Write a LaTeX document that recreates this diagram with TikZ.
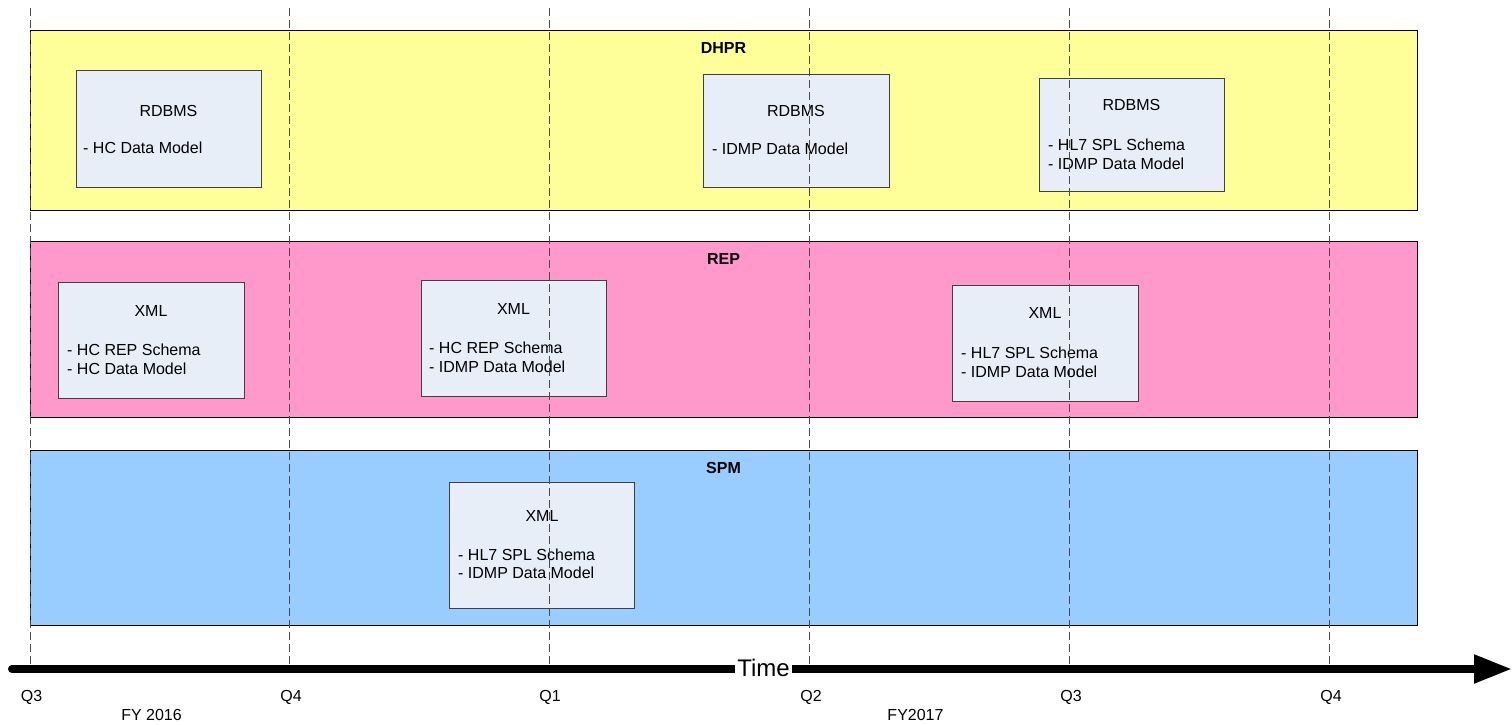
\documentclass[tikz,border=0pt]{standalone}
\usepackage{fontspec}
\setmainfont{Liberation Sans}
\usetikzlibrary{arrows.meta}
\definecolor{dhprfill}{HTML}{FFFF99}
\definecolor{repfill}{HTML}{FF99CC}
\definecolor{spmfill}{HTML}{99CCFF}
\definecolor{storefill}{HTML}{E8EEF8}
\definecolor{storeline}{HTML}{404040}
\definecolor{gridcol}{HTML}{4A4A4A}
\begin{document}
\begin{tikzpicture}[x=1pt,y=-1pt,
  band/.style={draw=black, line width=1pt, outer sep=0pt, inner sep=0pt, anchor=north west},
  store/.style={draw=storeline, fill=storefill, line width=1pt, outer sep=0pt, inner sep=0pt, anchor=north west},
  txt/.style={inner sep=0pt, font=\fontsize{16}{19}\selectfont},
  title/.style={txt, anchor=base},
  item/.style={txt, anchor=base west},
  bandlbl/.style={txt, anchor=base, font=\fontsize{16}{19}\selectfont\bfseries},
  quarter/.style={txt, anchor=base},
  gridline/.style={draw=gridcol, line width=1pt, dash pattern=on 8pt off 4pt}
]
\useasboundingbox (0,0) rectangle (1512,725);

% swim lanes
\node[band, fill=dhprfill, minimum width=1387pt, minimum height=179pt] (dhpr) at (30,31) {};
\node[band, fill=repfill,  minimum width=1387pt, minimum height=176pt] (rep)  at (30,241) {};
\node[band, fill=spmfill,  minimum width=1387pt, minimum height=175pt] (spm)  at (30,450) {};
\node[bandlbl] (dhprlbl) at (723.5,54) {DHPR};
\node[bandlbl] (replbl)  at (723.5,264.7) {REP};
\node[bandlbl] (spmlbl)  at (723.5,473.7) {SPM};

% DHPR stores
\node[store, minimum width=185pt, minimum height=116pt] (d1) at (76,71) {};
\node[title] (d1t) at (168.5,116.7) {RDBMS};
\node[item] (d1a) at (83,153.7) {- HC Data Model};

\node[store, minimum width=186pt, minimum height=113pt] (d2) at (703,74) {};
\node[title] (d2t) at (796,116.7) {RDBMS};
\node[item] (d2a) at (712,154.7) {- IDMP Data Model};

\node[store, minimum width=185pt, minimum height=113pt] (d3) at (1039,78) {};
\node[title] (d3t) at (1131.5,110.7) {RDBMS};
\node[item] (d3a) at (1048,150.7) {- HL7 SPL Schema};
\node[item] (d3b) at (1048,169.7) {- IDMP Data Model};

% REP stores
\node[store, minimum width=186pt, minimum height=116pt] (r1) at (58,282) {};
\node[title] (r1t) at (151,316.7) {XML};
\node[item] (r1a) at (67,355.7) {- HC REP Schema};
\node[item] (r1b) at (67,374.7) {- HC Data Model};

\node[store, minimum width=185pt, minimum height=116pt] (r2) at (421,280) {};
\node[title] (r2t) at (513.5,314.7) {XML};
\node[item] (r2a) at (429,353.7) {- HC REP Schema};
\node[item] (r2b) at (429,372.7) {- IDMP Data Model};

\node[store, minimum width=186pt, minimum height=116pt] (r3) at (952,285) {};
\node[title] (r3t) at (1045,318.7) {XML};
\node[item] (r3a) at (961,358.7) {- HL7 SPL Schema};
\node[item] (r3b) at (961,377.7) {- IDMP Data Model};

% SPM store
\node[store, minimum width=185pt, minimum height=126pt] (s1) at (449,482) {};
\node[title] (s1t) at (542,521.7) {XML};
\node[item] (s1a) at (458,560.7) {- HL7 SPL Schema};
\node[item] (s1b) at (458,578.7) {- IDMP Data Model};

% quarter grid lines
\foreach \i/\x in {1/30,2/289,3/549,4/809,5/1069,6/1329}{
  \coordinate (g\i top) at (\x,8);
  \coordinate (g\i bot) at (\x,665);
  \draw[gridline] (g\i top) -- (g\i bot);
}

% time axis
\coordinate (tstart) at (12,669);
\coordinate (tend) at (1512,669);
\draw[line width=8pt, line cap=round, -{Triangle[length=38pt,width=27pt]}] (tstart) -- (tend);
\node[fill=white, inner xsep=2pt, inner ysep=0pt, anchor=base, font=\fontsize{24}{28}\selectfont] (time) at (763.5,676) {Time};

% quarter and fiscal year labels
\node[quarter] (q3a) at (31.5,701.7) {Q3};
\node[quarter] (q4a) at (291,701.7) {Q4};
\node[quarter] (q1)  at (550,701.7) {Q1};
\node[quarter] (q2)  at (811,701.7) {Q2};
\node[quarter] (q3b) at (1071,701.7) {Q3};
\node[quarter] (q4b) at (1331,701.7) {Q4};
\node[quarter] (fy16) at (151.5,720.7) {FY 2016};
\node[quarter] (fy17) at (915.5,720.7) {FY2017};
\end{tikzpicture}
\end{document}
